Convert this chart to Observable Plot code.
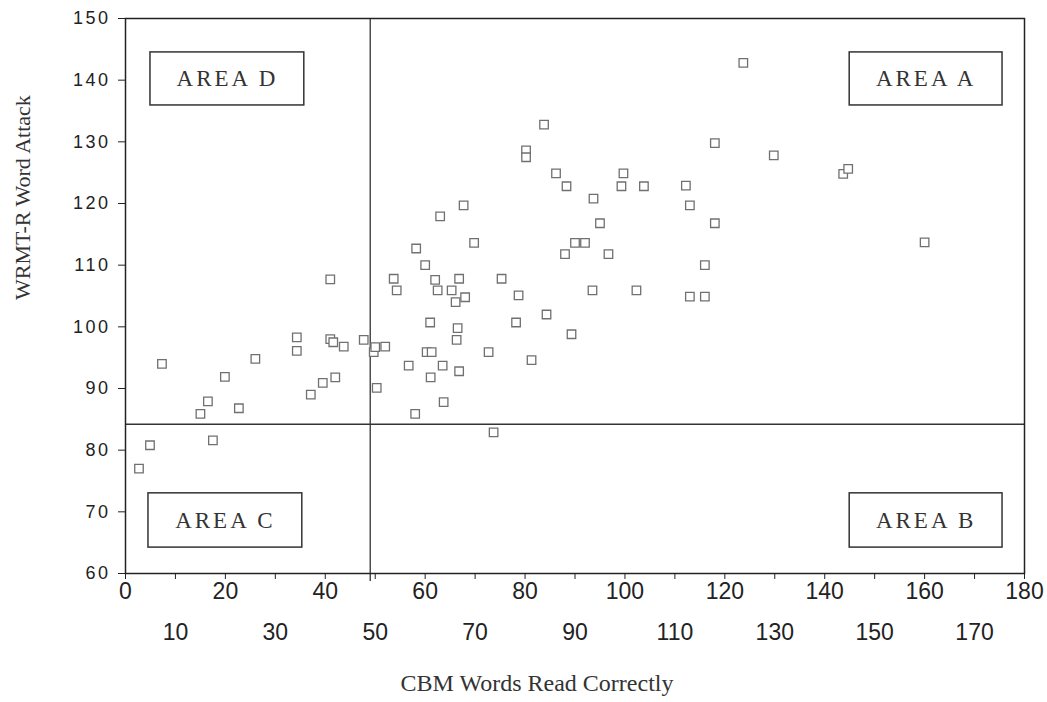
<!DOCTYPE html>
<html>
<head>
<meta charset="utf-8">
<script src="https://cdn.jsdelivr.net/npm/d3@7"></script>
<script src="https://cdn.jsdelivr.net/npm/@observablehq/plot@0.6"></script>
<style>
  html, body { margin: 0; padding: 0; background: #fff; }
</style>
</head>
<body>
<div id="chart"></div>
<script>
// CBM words read correctly (x) vs WRMT-R Word Attack (y)
const cbm = [2.7,4.9,7.3,15,16.5,17.5,19.9,22.7,26,34.3,34.3,37.1,39.5,41,41,41.6,42,43.7,47.7,49.7,
  50,50.3,52,53.7,54.3,56.7,58,58.2,60,60.3,61,61.1,61.3,62,62.5,63,63.5,63.7,65.3,66.1,
  66.3,66.5,66.8,66.8,67.7,68,69.8,72.7,73.7,75.3,78.2,78.7,80.2,80.2,81.3,83.8,84.3,86.2,88,88.3,
  89.3,90,92,93.5,93.7,95,96.7,99.3,99.7,102.3,103.8,112.2,113,113,116,116,118,118,123.7,129.8,
  143.7,144.7,160];
const wrmt = [77,80.8,94,85.9,87.9,81.6,91.9,86.8,94.8,98.3,96.1,89,90.9,107.7,98,97.5,91.8,96.8,97.9,95.9,
  96.7,90.1,96.8,107.8,105.9,93.7,85.9,112.7,110,95.9,100.7,91.8,95.9,107.6,105.9,117.9,93.7,87.8,105.9,104,
  97.9,99.8,107.8,92.8,119.7,104.8,113.6,95.9,82.9,107.8,100.7,105.1,128.6,127.5,94.6,132.8,102,124.9,111.8,122.8,
  98.8,113.6,113.6,105.9,120.8,116.8,111.8,122.8,124.9,105.9,122.8,122.9,119.7,104.9,110,104.9,129.8,116.8,142.8,127.8,
  124.8,125.6,113.7];

// cut-off lines
const cutX = [49];
const cutY = [84.2];

// quadrant label boxes (data units)
const areaNames = ["AREA D", "AREA A", "AREA C", "AREA B"];
const areaX1 = [5, 145, 4.6, 145];
const areaX2 = [35.8, 175.6, 35.4, 175.6];
const areaY1 = [135.9, 135.9, 64.2, 64.2];
const areaY2 = [144.5, 144.5, 73, 73];

// tick labels
const xTicksAll = d3.range(0, 181, 10);
const xTicksEven = [0, 20, 40, 60, 80, 100, 120, 140, 160, 180];
const xTicksOdd = [10, 30, 50, 70, 90, 110, 130, 150, 170];
const yTicks = [60, 70, 80, 90, 100, 110, 120, 130, 140, 150];

const points = cbm.map((x, i) => ({x, y: wrmt[i]}));
const areas = areaNames.map((name, i) => ({name, x1: areaX1[i], x2: areaX2[i], y1: areaY1[i], y2: areaY2[i]}));

const sans = "Liberation Sans, Arial, sans-serif";
const serif = "Liberation Serif, Times New Roman, serif";

const chart = Plot.plot({
  width: 1047,
  height: 702,
  marginLeft: 125,
  marginRight: 23,
  marginTop: 18,
  marginBottom: 129,
  style: {background: "#fff", color: "#222", overflow: "visible"},
  x: {domain: [0, 180]},
  y: {domain: [60, 150]},
  marks: [
    Plot.ruleX(cutX, {stroke: "#333", strokeWidth: 1.3, insetBottom: -8}),
    Plot.ruleY(cutY, {stroke: "#333", strokeWidth: 1.3}),
    Plot.rect(areas, {x1: "x1", x2: "x2", y1: "y1", y2: "y2", fill: "white", stroke: "#333", strokeWidth: 1.5}),
    Plot.text(areas, {x: d => (d.x1 + d.x2) / 2, y: d => (d.y1 + d.y2) / 2, text: "name",
      fontFamily: serif, fontSize: 23, fill: "#333"}),
    Plot.dot(points, {x: "x", y: "y", symbol: "square", r: 4.8, fill: "white", stroke: "#707070", strokeWidth: 1.3}),
    Plot.frame({stroke: "#222", strokeWidth: 1.5}),
    Plot.axisY({ticks: yTicks, tickSize: 7, tickPadding: 8, fontFamily: sans, fontSize: 18, label: null, stroke: "#222"}),
    Plot.axisX({ticks: xTicksAll, tickSize: 6, tickFormat: () => "", label: null, stroke: "#222"}),
    Plot.axisX({ticks: xTicksEven, tickSize: 0, tickPadding: 9, fontFamily: sans, fontSize: 23, label: null}),
    Plot.axisX({ticks: xTicksOdd, tickSize: 0, tickPadding: 50, fontFamily: sans, fontSize: 23, label: null}),
    Plot.text(["CBM Words Read Correctly"], {frameAnchor: "bottom", dx: -38, dy: 117, text: d => d,
      fontFamily: serif, fontSize: 24, fill: "#333"}),
    Plot.text(["WRMT-R Word Attack"], {frameAnchor: "left", dx: -103, dy: 4, rotate: -90, text: d => d,
      fontFamily: serif, fontSize: 22, fill: "#333"})
  ]
});
document.getElementById("chart").appendChild(chart);

// letter spacing on y tick labels and quadrant labels
const ySet = new Set(yTicks.map(String));
d3.select(chart).selectAll("text").each(function () {
  const t = this.textContent;
  if (areaNames.includes(t)) this.setAttribute("letter-spacing", "3px");
});
d3.select(chart).selectAll('g[aria-label="y-axis tick label"] text').attr("letter-spacing", "2.5px");
</script>
</body>
</html>
